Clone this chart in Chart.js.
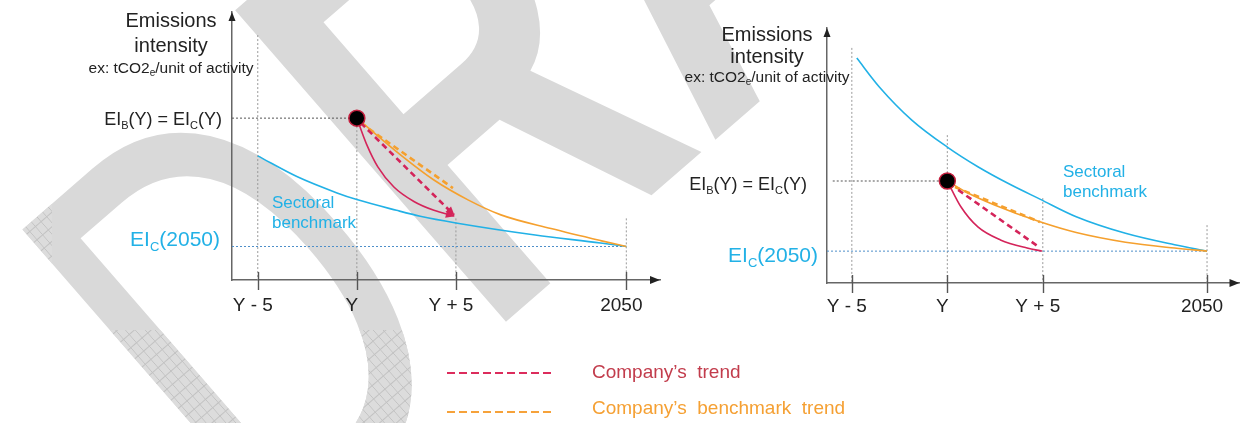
<!DOCTYPE html>
<html>
<head>
<meta charset="utf-8">
<script src="https://cdn.jsdelivr.net/npm/chart.js@4.4.1/dist/chart.umd.min.js"></script>
<style>
  html, body { margin: 0; padding: 0; background: #fff; }
  #stage { position: relative; width: 1249px; height: 423px; overflow: hidden;
           font-family: "Liberation Sans", Arial, sans-serif; }
  #stage canvas { position: absolute; top: 0; }
  .key { position: absolute; font-size: 19px; line-height: 20px; white-space: pre; }
</style>
</head>
<body>
<div id="stage">
  <canvas id="wm" width="1249" height="423" style="left:0"></canvas>
  <canvas id="left" width="700" height="340" style="left:0"></canvas>
  <canvas id="right" width="609" height="340" style="left:640px"></canvas>
  <svg style="position:absolute;left:447px;top:369px" width="108" height="8">
    <line x1="0" y1="4" x2="108" y2="4" stroke="#dc2c5c" stroke-width="2" stroke-dasharray="8 4"/>
  </svg>
  <div class="key" style="left:592px;top:362px;color:#c23c4c">Company’s  trend</div>
  <svg style="position:absolute;left:447px;top:408px" width="108" height="8">
    <line x1="0" y1="4" x2="108" y2="4" stroke="#f6a23a" stroke-width="2" stroke-dasharray="8 4"/>
  </svg>
  <div class="key" style="left:592px;top:398px;color:#f5a033">Company’s  benchmark  trend</div>
</div>
<script>
// ---- shared axis ticks (years, counted from the reporting year Y) ----
const tickValues = [-5, 0, 5, 13.6];
const tickLabels = ['Y - 5', 'Y', 'Y + 5', '2050'];
const ei2050 = 12.5;

// ---- left panel: company starts above the sectoral benchmark ----
const leftStart = 60.4;
const leftSectorX = [-5, -3, -1, 0, 2, 3.2, 5, 9, 12.3, 13.6];
const leftSectorY = [46.3, 38.5, 32.5, 30.0, 26.0, 23.8, 21.3, 16.8, 13.8, 12.5];
const leftBenchX = [0, 2.22, 3.89, 5.61, 7.27, 9.8, 12.3, 13.6];
const leftBenchY = [60.4, 46.6, 37.3, 29.9, 24.3, 19.2, 14.7, 12.5];
const leftCompanyX = [0, 0.5, 1.06, 1.87, 2.88, 3.89, 4.9];
const leftCompanyY = [60.4, 50.5, 42.2, 34.7, 29.3, 26.0, 23.9];
const leftTrendX = [0.2, 4.9];
const leftTrendY = [58.6, 24.3];
const leftBenchTrendX = [0.2, 4.85];
const leftBenchTrendY = [58.6, 34.3];
const leftGuideTop = [91.4, leftStart, 23, 23];

// ---- right panel: company starts below the sectoral benchmark ----
const rightStart = 40;
const rightSectorX = [-4.74, -3.56, -1.86, 0, 1.6, 3.3, 4.85, 6.75, 9.33, 11.9, 13.6];
const rightSectorY = [88.2, 76.9, 63.9, 53.3, 45.6, 38.6, 32.9, 26.0, 19.5, 15.0, 12.5];
const rightBenchX = [0, 1.08, 2.47, 4.85, 6.75, 9.33, 11.9, 13.6];
const rightBenchY = [40, 35.3, 30.6, 24.0, 19.8, 16.0, 13.7, 12.5];
const rightCompanyX = [0, 0.72, 1.6, 2.78, 4.18, 4.95];
const rightCompanyY = [40, 29.8, 22.0, 16.9, 13.7, 12.5];
const rightTrendX = [0.57, 4.8];
const rightTrendY = [36.5, 14.1];
const rightBenchTrendX = [0.4, 4.85];
const rightBenchTrendY = [37.6, 23.9];
const rightGuideTop = [92.2, 58, 33.3, 22.7];

const FONT = '"Liberation Sans", Arial, sans-serif';
const CYAN = '#22b1e6';
const RED = '#d4245a';
const ORANGE = '#f5a02e';
const INK = '#222222';

const pts = (xs, ys) => xs.map((x, i) => ({ x, y: ys[i] }));

function panelDatasets(p) {
  const sets = [
    { data: [{ x: 0, y: p.start }], showLine: false, pointRadius: 8, pointBackgroundColor: '#000',
      pointBorderColor: '#c41f3e', pointBorderWidth: 1.5, order: 0 },
    { data: pts(p.trendX, p.trendY), borderColor: RED, borderWidth: 2.6, borderDash: [6, 4],
      pointRadius: 0, arrow: p.arrows, order: 1 },
    { data: pts(p.companyX, p.companyY), borderColor: RED, borderWidth: 1.6,
      cubicInterpolationMode: 'monotone', pointRadius: 0, arrow: p.arrows, order: 2 },
    { data: pts(p.benchTrendX, p.benchTrendY), borderColor: ORANGE, borderWidth: 2.6, borderDash: [6, 4],
      pointRadius: 0, order: 3 },
    { data: pts(p.benchX, p.benchY), borderColor: ORANGE, borderWidth: 1.6,
      cubicInterpolationMode: 'monotone', pointRadius: 0, order: 4 },
    { data: pts(p.sectorX, p.sectorY), borderColor: CYAN, borderWidth: 1.6,
      cubicInterpolationMode: 'monotone', pointRadius: 0, order: 5 },
    // dotted reference lines
    { data: [{ x: p.hLineFrom, y: p.start }, { x: 0, y: p.start }],
      borderColor: '#555', borderWidth: 1, borderDash: [2, 2], pointRadius: 0, order: 6 },
    { data: [{ x: -6.3, y: ei2050 }, { x: 13.6, y: ei2050 }], borderColor: '#4f8fc9', borderWidth: 1,
      borderDash: [2, 2], pointRadius: 0, order: 6 }
  ];
  tickValues.forEach((v, i) => {
    sets.push({ data: [{ x: v, y: p.guideTop[i] }, { x: v, y: 0 }], borderColor: '#9a9a9a',
      borderWidth: 1, borderDash: [2, 2], pointRadius: 0, order: 7 });
  });
  return sets;
}

function richText(ctx, parts, x, y, align, size, subSize, color) {
  let total = 0;
  const widths = parts.map(([t, sub]) => {
    ctx.font = (sub ? subSize : size) + 'px ' + FONT;
    const w = ctx.measureText(t).width; total += w; return w;
  });
  let cx = align === 'right' ? x - total : align === 'center' ? x - total / 2 : x;
  ctx.fillStyle = color;
  ctx.textBaseline = 'alphabetic';
  ctx.textAlign = 'left';
  parts.forEach(([t, sub], i) => {
    ctx.font = (sub ? subSize : size) + 'px ' + FONT;
    ctx.fillText(t, cx, y + (sub ? size * 0.22 : 0));
    cx += widths[i];
  });
}

const decor = {
  id: 'decor',
  afterDatasetsDraw(chart) {
    const ctx = chart.ctx;
    // arrow heads at the end of the company paths
    chart.data.datasets.forEach((ds, i) => {
      if (!ds.arrow) return;
      const el = chart.getDatasetMeta(i).data;
      const last = el[el.length - 1];
      const prev = el[el.length - 2];
      const fx = last.cp1x !== undefined ? last.cp1x : prev.x;
      const fy = last.cp1y !== undefined ? last.cp1y : prev.y;
      const a = Math.atan2(last.y - fy, last.x - fx);
      ctx.save();
      ctx.translate(last.x, last.y);
      ctx.rotate(a);
      ctx.fillStyle = RED;
      ctx.beginPath();
      ctx.moveTo(1, 0); ctx.lineTo(-8, -4); ctx.lineTo(-8, 4); ctx.closePath();
      ctx.fill();
      ctx.restore();
    });
  },
  afterDraw(chart, args, o) {
    const ctx = chart.ctx;
    const { left, top, right, bottom } = chart.chartArea;
    const xs = chart.scales.x;
    ctx.save();
    // tick marks across the time axis
    ctx.strokeStyle = '#555'; ctx.lineWidth = 1.4;
    tickValues.forEach(v => {
      const px = Math.round(xs.getPixelForValue(v)) + 0.5;
      ctx.beginPath(); ctx.moveTo(px, bottom - 8); ctx.lineTo(px, bottom + 10); ctx.stroke();
    });
    // axis arrow heads
    ctx.fillStyle = '#222';
    ctx.beginPath(); ctx.moveTo(left, top); ctx.lineTo(left - 3.5, top + 9); ctx.lineTo(left + 3.5, top + 9); ctx.closePath(); ctx.fill();
    ctx.beginPath(); ctx.moveTo(right, bottom); ctx.lineTo(right - 10, bottom - 4); ctx.lineTo(right - 10, bottom + 4); ctx.closePath(); ctx.fill();
    // vertical axis title
    ctx.textAlign = 'center'; ctx.textBaseline = 'alphabetic'; ctx.fillStyle = INK;
    ctx.font = '20px ' + FONT;
    ctx.fillText('Emissions', o.titleX, o.titleBase[0]);
    ctx.fillText('intensity', o.titleX, o.titleBase[1]);
    richText(ctx, [['ex: tCO2', false], ['e', true], ['/unit of activity', false]], o.titleX, o.titleBase[2], 'center', 15.5, 10, INK);
    // value labels on the intensity axis
    richText(ctx, [['EI', false], ['B', true], ['(Y) = EI', false], ['C', true], ['(Y)', false]],
      o.eiRight, o.eiBase, 'right', 18, 11, INK);
    richText(ctx, [['EI', false], ['C', true], ['(2050)', false]], o.ei50Right, o.ei50Base, 'right', 21, 13, CYAN);
    // benchmark label
    ctx.textAlign = 'left'; ctx.fillStyle = CYAN; ctx.font = '17px ' + FONT;
    ctx.fillText('Sectoral', o.sectorX, o.sectorBase);
    ctx.fillText('benchmark', o.sectorX, o.sectorBase + 20);
    ctx.restore();
  }
};

function makePanel(id, p) {
  return new Chart(document.getElementById(id), {
    type: 'line',
    data: { datasets: panelDatasets(p) },
    plugins: [decor],
    options: {
      responsive: false, animation: false, devicePixelRatio: 1, events: [],
      layout: { padding: p.padding },
      plugins: { legend: { display: false }, tooltip: { enabled: false }, decor: p.text },
      scales: {
        x: {
          type: 'linear', min: -6.3, max: 15.3,
          afterBuildTicks: s => { s.ticks = tickValues.map(v => ({ value: v })); },
          grid: { display: false, drawTicks: false },
          border: { display: true, color: '#666', width: 1.5 },
          ticks: { callback: (v, i) => tickLabels[i], autoSkip: false, maxRotation: 0,
                   padding: p.tickPad, labelOffset: -5, color: INK, font: { family: FONT, size: 19 } }
        },
        y: {
          type: 'linear', min: 0, max: 100,
          grid: { display: false, drawTicks: false },
          border: { display: true, color: '#666', width: 1.5 },
          ticks: { display: false }
        }
      }
    }
  });
}

// ---- background lettering ----
(function drawMark() {
  const c = document.getElementById('wm').getContext('2d');
  const pc = document.createElement('canvas');
  pc.width = 11; pc.height = 11;
  const p = pc.getContext('2d');
  p.fillStyle = '#dcdcdc'; p.fillRect(0, 0, 11, 11);
  p.fillStyle = '#c2c2c2'; p.fillRect(0, 0, 11, 1); p.fillRect(0, 0, 1, 11);
  const angle = -41 * Math.PI / 180;
  const letters = (fill, x, y, weight, text, lead) => {
    c.save();
    c.translate(x, y);
    c.rotate(angle);
    c.scale(0.68, 1);
    c.font = weight + ' 600px "Liberation Sans"';
    c.fillStyle = fill;
    c.fillText(text, lead ? c.measureText(lead).width : 0, 0);
    c.restore();
  };
  const word = fill => {
    letters(fill, 268, 563, 'normal', 'D', '');
    letters(fill, 263, 533, 'bold', 'RAFT', 'D');
  };
  word('#d9d9d9');
  c.save();
  c.beginPath();
  c.rect(0, 0, 52, 423);
  c.rect(52, 330, 1197, 93);
  c.clip();
  word(c.createPattern(pc, 'repeat'));
  c.restore();
})();

makePanel('left', {
  start: leftStart, sectorX: leftSectorX, sectorY: leftSectorY, benchX: leftBenchX, benchY: leftBenchY,
  companyX: leftCompanyX, companyY: leftCompanyY, trendX: leftTrendX, trendY: leftTrendY,
  benchTrendX: leftBenchTrendX, benchTrendY: leftBenchTrendY, guideTop: leftGuideTop,
  hLineFrom: -6.3, arrows: true,
  padding: { left: 232, right: 40, top: 12, bottom: 9.2 }, tickPad: 14,
  text: { titleX: 171, titleBase: [27, 52, 73], eiRight: 222, eiBase: 125, ei50Right: 220, ei50Base: 246,
          sectorX: 272, sectorBase: 208 }
});

makePanel('right', {
  start: rightStart, sectorX: rightSectorX, sectorY: rightSectorY, benchX: rightBenchX, benchY: rightBenchY,
  companyX: rightCompanyX, companyY: rightCompanyY, trendX: rightTrendX, trendY: rightTrendY,
  benchTrendX: rightBenchTrendX, benchTrendY: rightBenchTrendY, guideTop: rightGuideTop,
  hLineFrom: -6.0, arrows: false,
  padding: { left: 187, right: 4, top: 28, bottom: 10.2 }, tickPad: 12,
  text: { titleX: 127, titleBase: [41, 63, 82], eiRight: 167, eiBase: 190, ei50Right: 178, ei50Base: 262,
          sectorX: 423, sectorBase: 177 }
});
</script>
</body>
</html>
